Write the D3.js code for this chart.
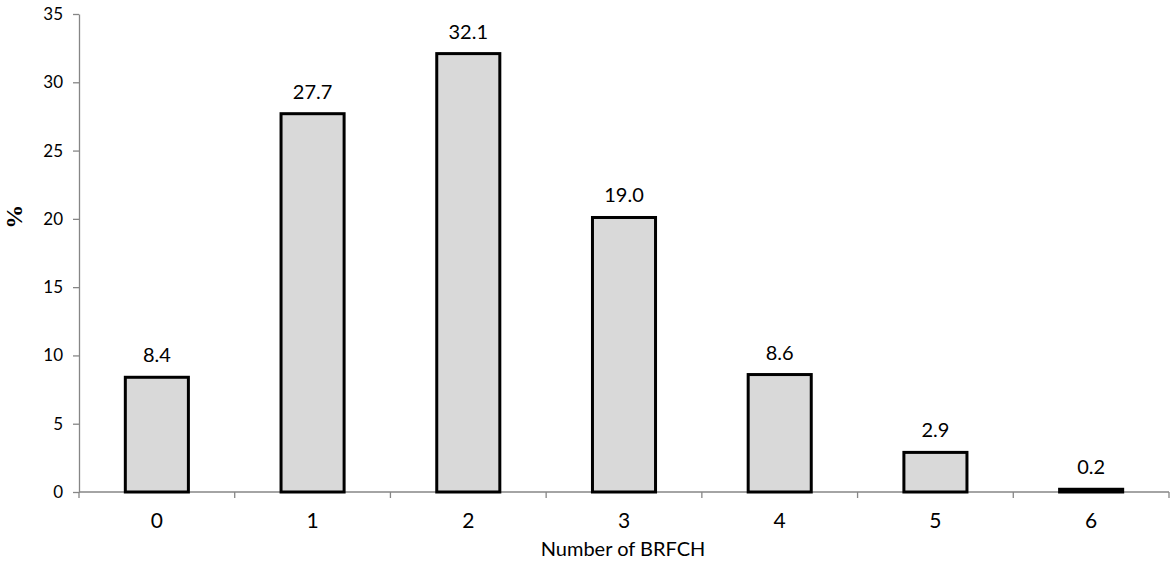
<!DOCTYPE html>
<html>
<head>
<meta charset="utf-8">
<script src="https://cdn.jsdelivr.net/npm/d3@7"></script>
<style>
  body { margin: 0; background: #fff; }
  text { font-family: Lato, "Open Sans", sans-serif; fill: #000; }
</style>
</head>
<body>
<svg id="chart"></svg>
<script>
// data
const categories = ["0", "1", "2", "3", "4", "5", "6"];
const values = [8.4, 27.7, 32.1, 20.1, 8.6, 2.9, 0.2];
const valueLabels = ["8.4", "27.7", "32.1", "19.0", "8.6", "2.9", "0.2"];
const yTicks = [0, 5, 10, 15, 20, 25, 30, 35];

const totalW = 1173, totalH = 573;
const margin = { top: 14, right: 4, bottom: 81, left: 79 };
const width = totalW - margin.left - margin.right;
const height = totalH - margin.top - margin.bottom;

const svg = d3.select("#chart")
  .attr("width", totalW)
  .attr("height", totalH);

const g = svg.append("g")
  .attr("transform", "translate(" + margin.left + "," + margin.top + ")");

const xScale = d3.scaleBand()
  .domain(categories)
  .range([0, width])
  .padding(0);

const yScale = d3.scaleLinear()
  .domain([0, 35])
  .range([height, 0]);

const barW = xScale.bandwidth() * 0.405;

// y axis
const yAxis = g.append("g")
  .call(d3.axisLeft(yScale).tickValues(yTicks).tickSize(6).tickPadding(10).tickSizeOuter(0));
yAxis.selectAll("line, path").style("stroke", "#868686").style("stroke-width", 1.3);
yAxis.selectAll("text").style("font-size", "17px").style("font-family", "Lato, sans-serif");

// x axis: ticks at category boundaries
const xAxis = g.append("g")
  .attr("transform", "translate(0," + height + ")");
xAxis.append("path")
  .attr("d", "M0,0H" + width)
  .style("stroke", "#868686")
  .style("stroke-width", 1.3);
xAxis.selectAll("line")
  .data(categories.concat(["end"]))
  .enter()
  .append("line")
  .attr("x1", (d, i) => i < categories.length ? xScale(d) : width)
  .attr("x2", (d, i) => i < categories.length ? xScale(d) : width)
  .attr("y1", 0)
  .attr("y2", 6)
  .style("stroke", "#868686")
  .style("stroke-width", 1.3);
xAxis.selectAll("text")
  .data(categories)
  .enter()
  .append("text")
  .attr("x", d => xScale(d) + xScale.bandwidth() / 2)
  .attr("y", 36)
  .style("text-anchor", "middle")
  .style("font-size", "21px")
  .text(d => d);

// bars (drawn over the axis line)
g.selectAll("rect.bar")
  .data(values)
  .enter()
  .append("rect")
  .attr("class", "bar")
  .attr("x", (d, i) => xScale(categories[i]) + (xScale.bandwidth() - barW) / 2)
  .attr("y", d => yScale(d))
  .attr("width", barW)
  .attr("height", d => yScale(0) - yScale(d))
  .style("fill", "#d9d9d9")
  .style("stroke", "#000")
  .style("stroke-width", 3);

// value labels
g.selectAll("text.val")
  .data(values)
  .enter()
  .append("text")
  .attr("class", "val")
  .attr("x", (d, i) => xScale(categories[i]) + xScale.bandwidth() / 2)
  .attr("y", d => yScale(d) - 15)
  .style("text-anchor", "middle")
  .style("font-size", "20px")
  .text((d, i) => valueLabels[i]);

// axis titles
g.append("text")
  .attr("x", width / 2 - 1)
  .attr("y", height + 64)
  .style("text-anchor", "middle")
  .style("font-size", "20px")
  .text("Number of BRFCH");

g.append("text")
  .attr("transform", "rotate(-90)")
  .attr("x", -(yScale(20) - 2))
  .attr("y", -margin.left + 22)
  .style("text-anchor", "middle")
  .style("font-family", "'Liberation Serif', serif")
  .style("font-weight", "bold")
  .style("font-size", "24px")
  .text("%");
</script>
</body>
</html>
